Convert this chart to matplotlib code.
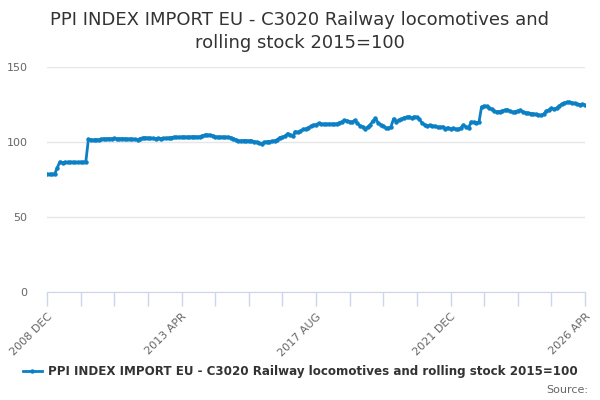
import matplotlib
matplotlib.use("Agg")
import matplotlib.pyplot as plt

title = "PPI INDEX IMPORT EU - C3020 Railway locomotives and\nrolling stock 2015=100"
series_name = "PPI INDEX IMPORT EU - C3020 Railway locomotives and rolling stock 2015=100"
x_labels = ["2008 DEC", "2013 APR", "2017 AUG", "2021 DEC", "2026 APR"]
y_ticks = [0, 50, 100, 150]

# monthly values, 2008 DEC .. 2026 APR (209 months)
values = [
    78.5, 78.5, 78.5, 78.8, 83.0, 86.8,
    86.3, 86.5, 86.4, 86.6, 86.5, 86.4, 86.5, 86.6, 86.5, 86.7,
    101.7, 101.5, 101.4, 101.6, 101.5,
    102.0, 102.2, 102.1, 102.3, 102.2, 102.4, 102.2, 102.1, 102.3, 102.2, 102.0, 102.1, 101.9, 101.8,
    101.5, 102.3,
    102.8, 102.9, 102.7, 102.6,
    102.4, 102.3, 102.5, 102.3, 102.4, 102.6, 102.7,
    103.0, 103.2, 103.3, 103.2, 103.4, 103.5, 103.3, 103.4, 103.5, 103.6, 103.4, 103.5,
    104.2, 104.6, 104.8, 104.6, 104.3,
    103.6, 103.4, 103.3, 103.4, 103.2, 103.3, 103.0,
    102.3, 101.6,
    100.9, 100.8, 101.0, 100.9, 100.8, 100.9,
    100.3, 100.0, 99.2, 99.0, 99.8, 100.2, 100.3, 100.6, 100.8, 101.5,
    103.0, 103.2, 103.8, 105.6, 104.8, 103.8, 107.0, 106.4, 107.2, 108.4,
    108.7, 109.6, 110.4, 111.2, 111.6, 112.4, 112.0,
    112.0, 111.9, 112.1, 112.0, 111.9, 112.2,
    112.8, 113.5, 114.4, 114.2, 113.6, 113.2, 114.5,
    112.4, 110.8, 110.2, 108.8, 110.0, 111.5, 114.0, 115.8, 112.8, 111.5,
    110.9, 109.4, 109.1, 110.2, 115.5, 113.6, 114.6, 115.2, 116.2, 116.6,
    116.9, 116.0, 116.9, 116.5, 115.2, 112.6, 111.5, 110.9, 111.1, 110.8,
    110.6, 110.0, 109.8, 110.2, 109.0, 109.6, 108.8, 109.2, 108.6, 108.4,
    109.5, 111.3, 110.2, 109.4, 113.4, 113.2, 113.0, 113.1,
    123.4, 124.0, 123.8, 122.6, 121.8, 120.4, 120.2, 120.3, 120.8, 121.2, 121.6, 120.6,
    119.8, 120.2, 120.8, 121.2, 120.2, 119.6, 119.3, 119.0, 118.8, 118.5,
    118.2, 117.8, 118.6, 120.6, 121.3, 122.6, 121.8, 122.6, 124.0, 125.3,
    126.1, 126.4, 126.7, 126.2, 125.7, 125.2, 125.0, 125.1, 124.8,
]

plt.rcParams['font.family'] = ['DejaVu Sans']
color = '#0b80c5'

fig = plt.figure(figsize=(6, 4), dpi=100)
ax = fig.add_axes([47/600, 1-292/400, (585-47)/600, (292-67)/400])

xs = list(range(len(values)))
ax.plot(xs, values, color=color, lw=2, marker='o', ms=2.2, mec=color, mfc=color,
        label=series_name, zorder=3)

n = len(values) - 1
ax.set_xlim(0, n)
ax.set_ylim(0, 150)
ax.set_yticks(y_ticks)
ax.set_yticklabels([str(v) for v in y_ticks], color='#666666', fontsize=8)
ax.yaxis.grid(True, color='#e6e6e6', lw=1)
ax.set_axisbelow(True)

step = 13
tick_pos = list(range(0, n + 1, step))
labels = []
for k, p in enumerate(tick_pos):
    labels.append(x_labels[k // 4] if k % 4 == 0 else "")
ax.set_xticks(tick_pos)
ax.set_xticklabels(labels, rotation=45, ha='right', rotation_mode='anchor',
                   color='#666666', fontsize=8)
ax.tick_params(axis='x', length=10, color='#ccd6eb', width=1, pad=4)
ax.tick_params(axis='y', length=0, pad=14)

for s in ['top', 'right', 'left']:
    ax.spines[s].set_visible(False)
ax.spines['bottom'].set_color('#ccd6eb')

fig.text(0.5, 1-31.5/400, title, ha='center', va='center', fontsize=13,
         color='#333333', linespacing=1.3)

leg = fig.legend(loc='center', bbox_to_anchor=(0.5, 1-372/400), frameon=False,
                 prop={'size': 8.6, 'weight': 'bold'}, handlelength=1.6,
                 handletextpad=0.5, borderaxespad=0)
for t in leg.get_texts():
    t.set_color('#333333')

fig.text(588/600, 1-390/400, "Source:", ha='right', va='center', fontsize=8,
         color='#666666')

fig.savefig('out.png', dpi=100)
